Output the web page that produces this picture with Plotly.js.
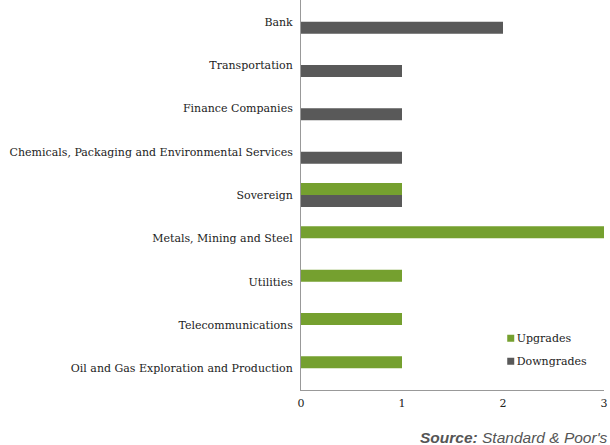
<!DOCTYPE html>
<html>
<head>
<meta charset="utf-8">
<script src="https://cdn.plot.ly/plotly-3.0.1.min.js"></script>
<style>html,body{margin:0;padding:0;background:#fff}#chart{width:610px;height:445px}</style>
</head>
<body>
<div id="chart"></div>
<script>
const categories = ["Bank", "Transportation", "Finance Companies", "Chemicals, Packaging and Environmental Services", "Sovereign", "Metals, Mining and Steel", "Utilities", "Telecommunications", "Oil and Gas Exploration and Production"];
const upgrades = [0, 0, 0, 0, 1, 3, 1, 1, 1];
const downgrades = [2, 1, 1, 1, 1, 0, 0, 0, 0];
const xTicks = [0, 1, 2, 3];

const serif = "DejaVu Serif, serif";
const ink = "#222";
const traces = [
  {type: "bar", orientation: "h", name: "Upgrades", legendgroup: "u", y: categories, x: upgrades,
   marker: {color: "#75a02f", line: {width: 0}}, hoverinfo: "x+y"},
  {type: "bar", orientation: "h", name: "Downgrades", legendgroup: "d", y: categories, x: downgrades,
   marker: {color: "#595959", line: {width: 0}}, hoverinfo: "x+y"}
];
const layout = {
  width: 610, height: 445,
  margin: {l: 301, r: 6, t: 0, b: 55},
  paper_bgcolor: "#fff", plot_bgcolor: "#fff",
  barmode: "group", bargap: 0.447, bargroupgap: 0,
  showlegend: true,
  legend: {x: 0.58, y: 0.17, xanchor: "left", yanchor: "top", traceorder: "grouped", tracegroupgap: 4,
    font: {family: serif, size: 11, color: ink}, bgcolor: "rgba(0,0,0,0)"},
  font: {family: serif, size: 11, color: ink},
  xaxis: {range: [0, 3], tickvals: xTicks, ticktext: xTicks.map(String), showgrid: false, zeroline: false,
    showline: true, linecolor: "#999", linewidth: 1, ticks: "", ticklen: 0, ticklabelstandoff: 3,
    tickfont: {family: serif, size: 11, color: ink}, fixedrange: true},
  yaxis: {type: "category", autorange: false, range: [8.5, -0.5], showgrid: false, zeroline: false,
    showline: true, linecolor: "#999", linewidth: 1, ticks: "", ticklen: 0, ticklabelstandoff: 5,
    tickfont: {family: serif, size: 11, color: ink}, fixedrange: true},
  annotations: [{
    xref: "paper", yref: "paper", x: (418 - 301) / 303, y: -(437 - 390) / 390,
    xanchor: "left", yanchor: "middle", showarrow: false,
    text: "<b><i>Source:</i></b><i> Standard &amp; Poor's</i>",
    font: {family: "Liberation Sans, Arial, sans-serif", size: 15.5, color: "#555"}
  }]
};
Plotly.newPlot("chart", traces, layout, {displayModeBar: false, staticPlot: true}).then(function (gd) {
  gd.querySelectorAll(".legend .legendpoints path").forEach(function (p) {
    p.setAttribute("d", "M3.5,3.5H-3.5V-3.5H3.5Z");
    p.setAttribute("transform", "translate(34,0)");
  });
});
</script>
</body>
</html>
